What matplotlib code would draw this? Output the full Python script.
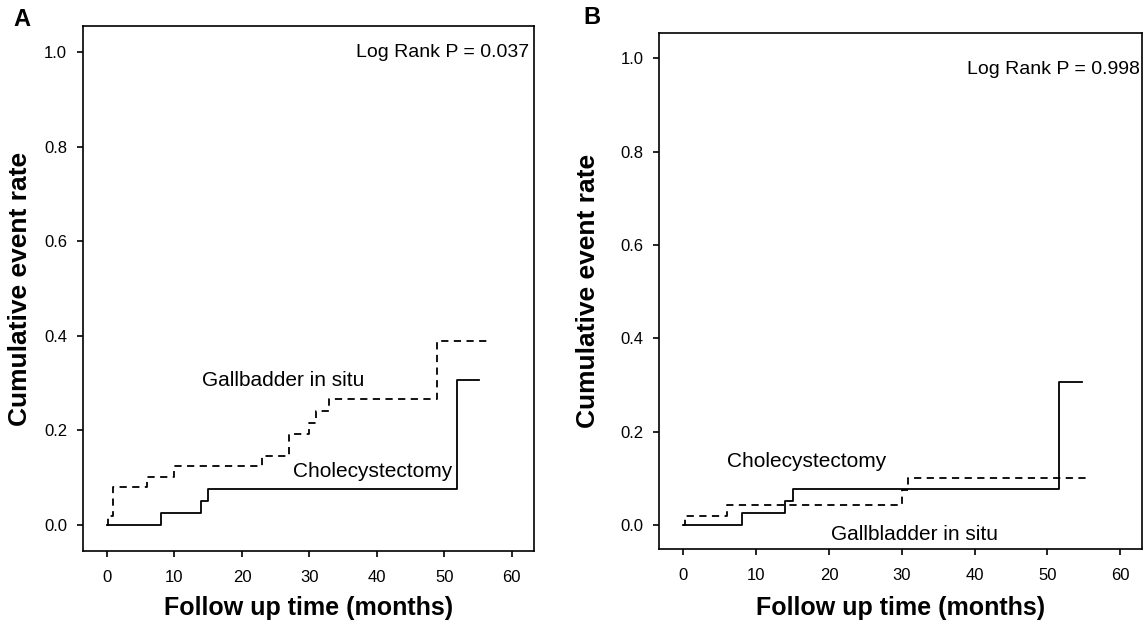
import numpy as np
import matplotlib.pyplot as plt

plt.rcParams['font.family'] = ['Liberation Sans', 'DejaVu Sans']

# panel A
a_chole_t = [0, 8, 14, 15, 51.9, 55.1]
a_chole_v = [0.0, 0.026, 0.051, 0.077, 0.307, 0.307]
a_gb_t = [0, 0.2, 0.95, 5.9, 9.9, 23.0, 27.0, 29.9, 31.0, 32.9, 48.9, 56.3]
a_gb_v = [0.0, 0.02, 0.081, 0.102, 0.124, 0.146, 0.193, 0.216, 0.241, 0.267, 0.389, 0.389]

# panel B
b_chole_t = [0, 8, 14, 15, 51.6, 54.8]
b_chole_v = [0.0, 0.026, 0.051, 0.077, 0.307, 0.307]
b_gb_t = [0, 0.2, 6, 30, 30.8, 55.9]
b_gb_v = [0.0, 0.02, 0.043, 0.076, 0.1, 0.1]

xticks = [0, 10, 20, 30, 40, 50, 60]
yticks = [0.0, 0.2, 0.4, 0.6, 0.8, 1.0]

fig = plt.figure(figsize=(11.45, 6.24), dpi=100)
axA = fig.add_axes([0.0725, 0.117, 0.3939, 0.8413])
axB = fig.add_axes([0.5759, 0.1202, 0.4215, 0.8269])

def style(ax, xlim, ylim, xlab_y, ylab_x):
    ax.set_xlim(*xlim)
    ax.set_ylim(*ylim)
    ax.set_xticks(xticks)
    ax.set_yticks(yticks)
    ax.set_yticklabels(['%.1f' % v for v in yticks])
    ax.tick_params(direction='out', length=4.5, width=1.2, labelsize=12, pad=7)
    ax.tick_params(axis='x', pad=9)
    for s in ax.spines.values():
        s.set_linewidth(1.2)
    ax.set_xlabel('Follow up time (months)', fontsize=18, fontweight='bold', va='center')
    ax.set_ylabel('Cumulative event rate', fontsize=19, fontweight='bold', va='center')
    ax.xaxis.set_label_coords(0.5, xlab_y)
    ax.yaxis.set_label_coords(ylab_x, 0.5)

axA.plot(a_chole_t, a_chole_v, drawstyle='steps-post', color='black', lw=1.3)
axA.plot(a_gb_t, a_gb_v, drawstyle='steps-post', color='black', lw=1.3, dashes=(4, 3))
style(axA, (-3.56, 63.3), (-0.055, 1.055), -0.1086, -0.14)
axA.text(26.1, 0.305, 'Gallbadder in situ', fontsize=15, ha='center', va='center')
axA.text(39.3, 0.113, 'Cholecystectomy', fontsize=15, ha='center', va='center')
axA.text(62.5, 1.0, 'Log Rank P = 0.037', fontsize=14, ha='right', va='center')

axB.plot(b_chole_t, b_chole_v, drawstyle='steps-post', color='black', lw=1.3)
axB.plot(b_gb_t, b_gb_v, drawstyle='steps-post', color='black', lw=1.3, dashes=(4, 3))
style(axB, (-3.3, 63.0), (-0.051, 1.054), -0.114, -0.148)
axB.text(16.9, 0.137, 'Cholecystectomy', fontsize=15, ha='center', va='center')
axB.text(31.7, -0.02, 'Gallbladder in situ', fontsize=15, ha='center', va='center')
axB.text(62.7, 0.975, 'Log Rank P = 0.998', fontsize=14, ha='right', va='center')

fig.text(13 / 1145, 1 - 20 / 624, 'A', fontsize=17, fontweight='bold', ha='left', va='center')
fig.text(583 / 1145, 1 - 18 / 624, 'B', fontsize=17, fontweight='bold', ha='left', va='center')

fig.savefig('out.png', dpi=100)
